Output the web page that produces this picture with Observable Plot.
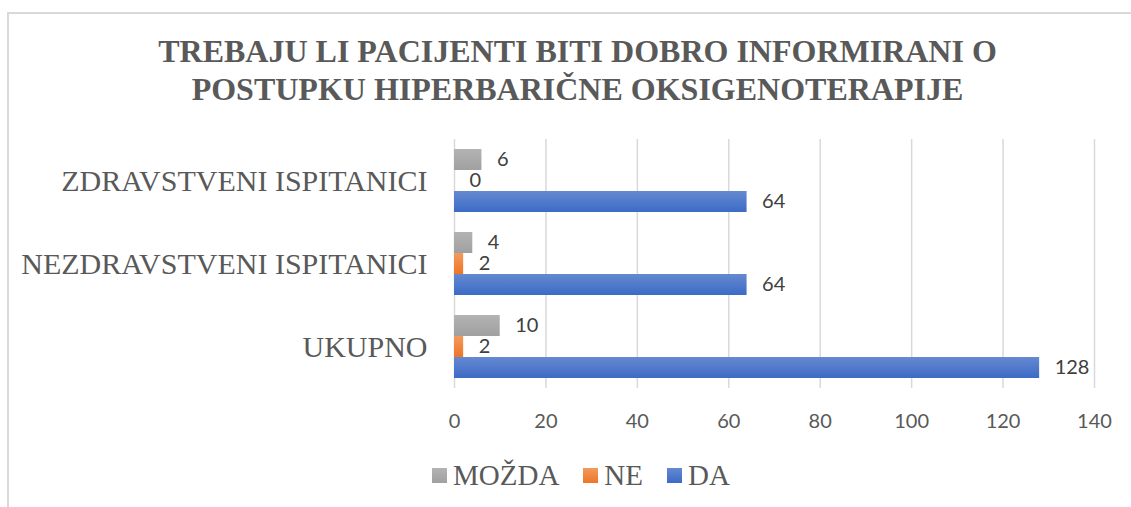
<!DOCTYPE html>
<html>
<head>
<meta charset="utf-8">
<script src="https://cdn.jsdelivr.net/npm/d3@7"></script>
<script src="https://cdn.jsdelivr.net/npm/@observablehq/plot@0.6"></script>
<style>
  html, body { margin: 0; padding: 0; background: #fff; }
  body { width: 1131px; height: 507px; position: relative; overflow: hidden; }
  #frame { position: absolute; left: 7px; top: 12px; width: 1300px; height: 600px;
           border-top: 2px solid #d9d9d9; border-left: 2px solid #d9d9d9; }
  #title { position: absolute; left: 8px; width: 1139px; top: 32px; text-align: center;
           font-family: "Liberation Serif", "Times New Roman", serif; font-weight: bold;
           font-size: 32px; line-height: 38px; color: #595959; }
  #chart { position: absolute; left: 0; top: 120px; }
  #legend { position: absolute; left: 432px; top: 461px; display: flex; align-items: center;
            font-family: "Liberation Serif", "Times New Roman", serif; font-size: 29px;
            line-height: 29px; color: #595959; }
  .item { display: flex; align-items: center; }
  .sw { width: 15px; height: 15px; margin-right: 6px; }
  .item + .item { margin-left: 24px; }
</style>
</head>
<body>
<svg width="0" height="0" style="position:absolute">
  <defs>
    <linearGradient id="gGrey" x1="0" y1="0" x2="0" y2="1">
      <stop offset="0" stop-color="#b3b3b3"/><stop offset="1" stop-color="#a0a0a0"/>
    </linearGradient>
    <linearGradient id="gOrange" x1="0" y1="0" x2="0" y2="1">
      <stop offset="0" stop-color="#f29a5e"/><stop offset="1" stop-color="#ee7526"/>
    </linearGradient>
    <linearGradient id="gBlue" x1="0" y1="0" x2="0" y2="1">
      <stop offset="0" stop-color="#6589d1"/><stop offset="1" stop-color="#3c6bc5"/>
    </linearGradient>
  </defs>
</svg>
<div id="frame"></div>
<div id="title">TREBAJU LI PACIJENTI BITI DOBRO INFORMIRANI O<br>POSTUPKU HIPERBARIČNE OKSIGENOTERAPIJE</div>
<div id="chart"></div>
<div id="legend"></div>
<script>
const categories = ["ZDRAVSTVENI ISPITANICI", "NEZDRAVSTVENI ISPITANICI", "UKUPNO"];
const series = ["MOŽDA", "NE", "DA"];
const mozda = [6, 4, 10];
const ne = [0, 2, 2];
const da = [64, 64, 128];
const xTicks = [0, 20, 40, 60, 80, 100, 120, 140];
const fills = ["url(#gGrey)", "url(#gOrange)", "url(#gBlue)"];
const swatchCss = ["linear-gradient(#b3b3b3,#a0a0a0)", "linear-gradient(#f29a5e,#ee7526)", "linear-gradient(#6589d1,#3c6bc5)"];

const values = {"MOŽDA": mozda, "NE": ne, "DA": da};
const data = categories.flatMap((c, i) => series.map(s => ({cat: c, s, v: values[s][i]})));

const chart = Plot.plot({
  width: 1131,
  height: 320,
  marginLeft: 454,
  marginRight: 37,
  marginTop: 18,
  marginBottom: 52,
  style: {background: "transparent"},
  x: {domain: [0, 140], ticks: xTicks},
  y: {domain: series, paddingInner: 0, paddingOuter: 0.42, axis: null},
  fy: {domain: categories, padding: 0},
  color: {domain: series, range: fills},
  marks: [
    Plot.gridX(xTicks, {stroke: "#d9d9d9", strokeOpacity: 1, strokeWidth: 1.5}),
    Plot.barX(data, {x: "v", y: "s", fy: "cat", fill: "s"}),
    Plot.text(data, {x: "v", y: "s", fy: "cat", text: d => String(d.v), dx: 15, textAnchor: "start",
      fill: "#404040", fontSize: 20, fontFamily: "Lato"}),
    Plot.axisX(xTicks, {tickSize: 0, tickPadding: 25, fontSize: 20, fontFamily: "Lato", color: "#595959", label: null}),
    Plot.axisFy({anchor: "left", tickSize: 0, tickPadding: 27, fontSize: 30, fontFamily: "Liberation Serif", color: "#595959", label: null})
  ]
});
document.getElementById("chart").appendChild(chart);

const legend = document.getElementById("legend");
series.forEach((s, i) => {
  const item = document.createElement("div");
  item.className = "item";
  const sw = document.createElement("div");
  sw.className = "sw";
  sw.style.background = swatchCss[i];
  const t = document.createElement("span");
  t.textContent = s;
  item.appendChild(sw);
  item.appendChild(t);
  legend.appendChild(item);
});
</script>
</body>
</html>
